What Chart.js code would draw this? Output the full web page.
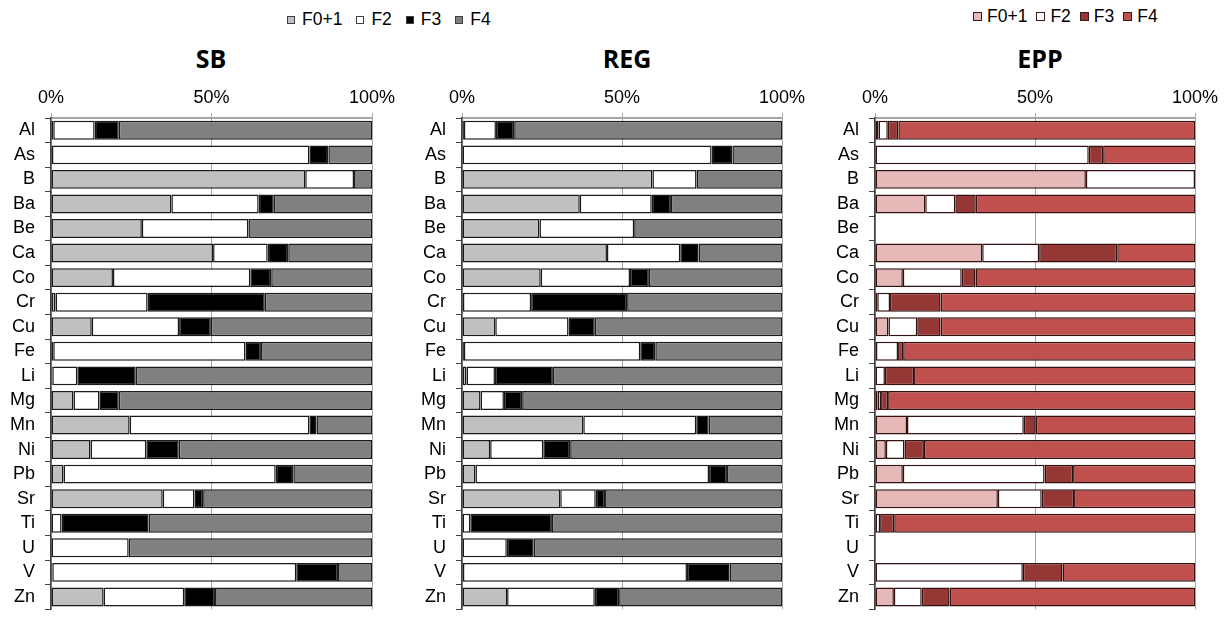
<!DOCTYPE html>
<html>
<head>
<meta charset="utf-8">
<script src="https://cdn.jsdelivr.net/npm/chart.js@4.4.1/dist/chart.umd.min.js"></script>
<style>
  body { margin: 0; width: 1229px; height: 630px; background: #fff; overflow: hidden; position: relative; font-family: "Liberation Sans", Arial, sans-serif; }
  .panel { position: absolute; top: 0; }
  .title { position: absolute; width: 200px; text-align: center; font-family: "Open Sans", sans-serif; font-weight: 700; font-size: 25px; line-height: 25px; color: #000; }
  .legend { position: absolute; display: flex; align-items: center; font-size: 17.5px; line-height: 17.5px; color: #000; }
  .legend span.item { display: flex; align-items: center; }
  .legend i { display: inline-block; box-sizing: border-box; }
</style>
</head>
<body>

<div class="legend" id="leg1" style="left:287px; top:11px;"></div>
<div class="legend" id="leg2" style="left:973px; top:8px;"></div>

<div class="title" style="left:111px; top:46px;">SB</div>
<div class="title" style="left:527px; top:46px;">REG</div>
<div class="title" style="left:940px; top:46px;">EPP</div>

<div class="panel" style="left:0px;"><canvas id="sb" width="400" height="630"></canvas></div>
<div class="panel" style="left:410px;"><canvas id="reg" width="400" height="630"></canvas></div>
<div class="panel" style="left:823px;"><canvas id="epp" width="400" height="630"></canvas></div>

<script>
// elements
var elements = ["Al", "As", "B", "Ba", "Be", "Ca", "Co", "Cr", "Cu", "Fe", "Li", "Mg", "Mn", "Ni", "Pb", "Sr", "Ti", "U", "V", "Zn"];
var fractions = ["F0+1", "F2", "F3", "F4"];
var xTicks = [0, 50, 100];

// SB (% of total)
var sbF01 = [0.7, 0.3, 79.2, 37.5, 28.3, 50.5, 19.3, 1.4, 12.7, 0.7, 0.4, 7.0, 24.5, 12.3, 3.9, 34.8, 0, 0, 0.4, 16.4];
var sbF2  = [12.9, 80.2, 15.2, 27.2, 33.2, 17.0, 42.8, 28.7, 27.2, 59.9, 7.8, 8.1, 56.0, 17.4, 66.1, 9.9, 3.3, 24.2, 76.0, 25.1];
var sbF3  = [7.5, 5.9, 0, 4.7, 0, 6.4, 6.5, 36.5, 9.9, 4.8, 18.2, 6.0, 2.2, 10.1, 5.5, 2.7, 27.1, 0, 13.0, 9.6];
var sbF4  = [78.9, 13.6, 5.6, 30.6, 38.5, 26.1, 31.4, 33.4, 50.2, 34.6, 73.6, 78.9, 17.3, 60.2, 24.5, 52.6, 69.6, 75.8, 10.6, 48.9];

// REG
var regF01 = [0.6, 0, 59.5, 36.8, 24.2, 45.3, 24.6, 0.3, 10.4, 0.6, 1.4, 5.8, 37.9, 8.8, 4.2, 30.7, 0, 0, 0.3, 14.1];
var regF2  = [10.0, 78.0, 13.8, 22.5, 29.6, 22.9, 27.9, 21.3, 22.9, 55.1, 8.9, 7.3, 35.3, 16.6, 73.0, 11.1, 2.6, 14.0, 70.0, 27.4];
var regF3  = [5.7, 6.5, 0, 6.0, 0, 5.7, 5.9, 30.0, 8.2, 4.7, 18.1, 5.7, 3.9, 8.4, 5.6, 2.9, 25.5, 8.4, 13.3, 7.6];
var regF4  = [83.7, 15.5, 26.7, 34.7, 46.2, 26.1, 41.6, 48.4, 58.5, 39.6, 71.6, 81.2, 22.9, 66.2, 17.2, 55.3, 71.9, 77.6, 16.4, 50.9];

// EPP (Be and U not determined)
var eppF01 = [1.1, 0, 65.9, 15.7, 0, 33.5, 8.7, 0.7, 4.2, 0.3, 0, 0.8, 10.0, 3.4, 8.7, 38.4, 0, 0, 0, 5.9];
var eppF2  = [2.9, 66.8, 34.1, 9.4, 0, 17.8, 18.4, 4.0, 9.0, 6.9, 3.1, 1.1, 36.5, 5.8, 44.3, 13.7, 1.6, 0, 46.2, 8.7];
var eppF3  = [3.3, 4.5, 0, 6.4, 0, 24.4, 4.3, 15.8, 7.3, 1.6, 9.1, 2.2, 3.7, 6.1, 8.9, 10.1, 4.4, 0, 12.4, 8.7];
var eppF4  = [92.7, 28.7, 0, 68.5, 0, 24.3, 68.6, 79.5, 79.5, 91.2, 87.8, 95.9, 49.8, 84.7, 38.1, 37.8, 94.0, 0, 41.4, 76.7];

var greyColors = ["#c0c0c0", "#ffffff", "#000000", "#808080"];
var redColors = ["#e6b9b8", "#ffffff", "#953735", "#c0504d"];

function makeLegend(id, colors, border, gap, boxSize, textGap) {
    var el = document.getElementById(id);
    fractions.forEach(function (name, i) {
        var item = document.createElement("span");
        item.className = "item";
        item.style.marginRight = (i < fractions.length - 1 ? gap : 0) + "px";
        var box = document.createElement("i");
        box.style.width = boxSize + "px";
        box.style.height = boxSize + "px";
        box.style.background = colors[i];
        box.style.border = "1px solid " + border;
        box.style.marginRight = textGap + "px";
        item.appendChild(box);
        item.appendChild(document.createTextNode(name));
        el.appendChild(item);
    });
}
makeLegend("leg1", greyColors, "#404040", 14, 8, 7);
makeLegend("leg2", redColors, "#3a1a1a", 9, 9, 5);

function makeChart(id, series, colors, borderColor, yWidth) {
    var ctx = document.getElementById(id).getContext("2d");
    return new Chart(ctx, {
        type: "bar",
        data: {
            labels: elements,
            datasets: series.map(function (vals, i) {
                return {
                    label: fractions[i],
                    data: vals,
                    backgroundColor: colors[i],
                    borderColor: borderColor,
                    borderWidth: 1.5,
                    borderSkipped: false,
                    barPercentage: 0.77,
                    categoryPercentage: 1
                };
            })
        },
        options: {
            indexAxis: "y",
            responsive: false,
            animation: false,
            layout: { padding: { top: 0, right: 28, bottom: 0, left: 0 } },
            plugins: { legend: { display: false }, title: { display: false }, tooltip: { enabled: false } },
            scales: {
                x: {
                    position: "top",
                    stacked: true,
                    min: 0,
                    max: 100,
                    afterBuildTicks: function (scale) {
                        scale.ticks = xTicks.map(function (v) { return { value: v }; });
                    },
                    afterFit: function (scale) { scale.height = 118; },
                    ticks: {
                        padding: 4,
                        color: "#000",
                        font: { family: "Liberation Sans", size: 18 },
                        callback: function (v) { return v + "%"; }
                    },
                    grid: { color: "#a6a6a6", lineWidth: 1, tickLength: 5 },
                    border: { color: "#a6a6a6", width: 2 }
                },
                y: {
                    stacked: true,
                    afterFit: function (scale) { scale.width = yWidth; },
                    ticks: {
                        autoSkip: false,
                        padding: 10,
                        color: "#000",
                        font: { family: "Liberation Sans", size: 18 }
                    },
                    grid: { drawOnChartArea: false, color: "#404040", tickLength: 6, offset: true },
                    border: { color: "#404040", width: 1.5 }
                }
            }
        }
    });
}

makeChart("sb", [sbF01, sbF2, sbF3, sbF4], greyColors, "#1a1a1a", 51);
makeChart("reg", [regF01, regF2, regF3, regF4], greyColors, "#1a1a1a", 52);
makeChart("epp", [eppF01, eppF2, eppF3, eppF4], redColors, "#331111", 52);
</script>
</body>
</html>
